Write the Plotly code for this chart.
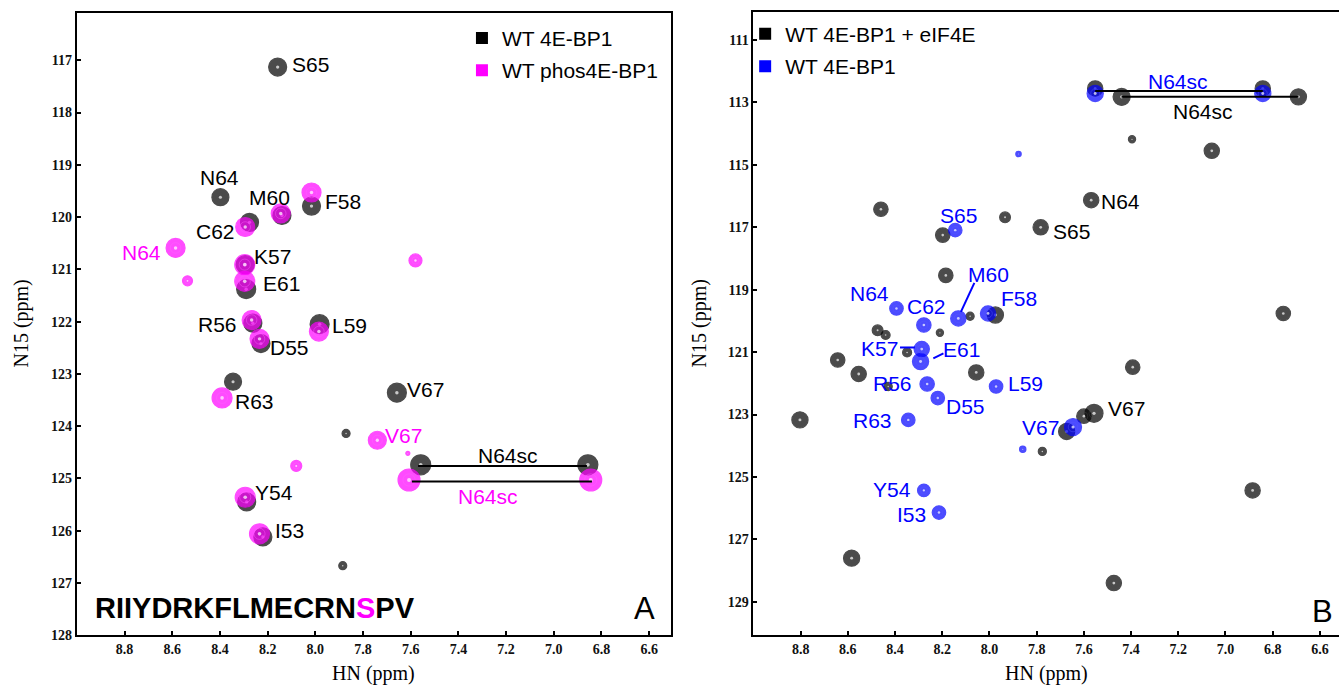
import plotly.graph_objects as go

# ---------------- Panel A data (HN ppm, N15 ppm, relative intensity) ----------------
a_black_hn = [8.158, 8.398, 8.140, 8.016, 8.276, 8.294, 8.290, 8.262, 7.982, 8.228, 8.345, 7.658, 7.871, 7.558, 6.857, 8.288, 8.220, 7.885]
a_black_n15 = [117.13, 119.62, 119.97, 119.79, 120.10, 120.91, 121.38, 122.03, 122.05, 122.42, 123.15, 123.36, 124.14, 124.74, 124.74, 125.45, 126.12, 126.67]
a_black_int = [0.90, 0.85, 0.90, 0.90, 0.90, 0.90, 0.95, 0.90, 0.95, 0.90, 0.85, 0.95, 0.40, 1.00, 1.00, 0.90, 0.90, 0.40]

a_mag_hn = [8.145, 8.016, 8.294, 8.586, 8.536, 7.580, 8.296, 8.296, 8.267, 7.985, 8.234, 8.391, 7.740, 7.612, 8.080, 7.607, 6.845, 8.294, 8.234]
a_mag_n15 = [119.93, 119.53, 120.19, 120.59, 121.22, 120.83, 120.91, 121.23, 121.97, 122.19, 122.33, 123.46, 124.27, 124.52, 124.76, 125.03, 125.03, 125.36, 126.06]
a_mag_int = [0.95, 0.95, 0.95, 0.95, 0.50, 0.65, 1.00, 1.00, 0.95, 0.95, 0.95, 1.00, 0.90, 0.20, 0.55, 1.10, 1.10, 1.00, 1.00]

# N64 side-chain pairs (panel A)
a_sc_black_hn = [7.569, 6.861]
a_sc_black_n15 = [124.76, 124.76]
a_sc_mag_hn = [7.595, 6.840]
a_sc_mag_n15 = [125.06, 125.06]

a_lab_black = ["S65", "N64", "M60", "F58", "C62", "K57", "E61", "R56", "L59", "D55", "R63", "V67", "N64sc", "Y54", "I53"]
a_lab_black_hn = [8.022, 8.403, 8.194, 7.885, 8.418, 8.180, 8.143, 8.409, 7.858, 8.107, 8.253, 7.536, 7.194, 8.173, 8.107]
a_lab_black_n15 = [117.08, 119.24, 119.62, 119.71, 120.27, 120.75, 121.28, 122.05, 122.08, 122.50, 123.53, 123.29, 124.56, 125.27, 126.00]
a_lab_mag = ["N64", "V67", "N64sc"]
a_lab_mag_hn = [8.731, 7.630, 7.276]
a_lab_mag_n15 = [120.67, 124.17, 125.34]

# ---------------- Panel B data ----------------
b_black_hn = [7.552, 6.842, 7.440, 6.691, 7.396, 7.058, 8.460, 7.569, 7.934, 7.783, 8.198, 8.185, 6.755, 8.474, 8.440, 8.210, 8.082, 7.975,
              8.643, 8.554, 8.349, 8.056, 7.393, 8.429, 8.803, 7.557, 7.600, 7.673, 7.776, 6.885, 8.584, 7.473]
b_black_n15 = [112.55, 112.55, 112.82, 112.82, 114.18, 114.55, 116.42, 116.13, 116.68, 117.00, 117.25, 118.54, 119.76, 120.30, 120.45, 120.38, 119.85, 119.81,
               121.25, 121.70, 121.01, 121.65, 121.48, 122.10, 123.17, 122.96, 123.05, 123.54, 124.18, 125.43, 127.60, 128.40]
b_black_int = [0.85, 0.85, 0.95, 0.90, 0.40, 0.85, 0.80, 0.85, 0.60, 0.85, 0.80, 0.80, 0.80, 0.60, 0.50, 0.40, 0.45, 0.90,
               0.80, 0.85, 0.50, 0.85, 0.80, 0.45, 0.90, 1.00, 0.80, 0.90, 0.45, 0.85, 0.90, 0.85]

b_blue_hn = [7.552, 6.842, 7.877, 8.145, 8.394, 8.278, 8.132, 8.006, 8.287, 8.292, 8.264, 8.219, 7.972, 8.344, 7.646, 7.859, 8.278, 8.214]
b_blue_n15 = [112.71, 112.71, 114.65, 117.09, 119.60, 120.13, 119.92, 119.76, 120.90, 121.30, 122.02, 122.47, 122.10, 123.17, 123.40, 124.11, 125.43, 126.14]
b_blue_int = [0.90, 0.90, 0.30, 0.75, 0.75, 0.80, 0.85, 0.85, 0.85, 0.90, 0.80, 0.75, 0.75, 0.75, 0.95, 0.35, 0.70, 0.75]

b_sc_blue_hn = [7.552, 6.842]
b_sc_blue_n15 = [112.63, 112.63]
b_sc_black_hn = [7.440, 6.691]
b_sc_black_n15 = [112.82, 112.82]

b_lab_blue = ["N64sc", "S65", "M60", "N64", "C62", "F58", "K57", "E61", "R56", "L59", "D55", "R63", "V67", "Y54", "I53"]
b_lab_blue_hn = [7.200, 8.130, 8.006, 8.507, 8.265, 7.875, 8.466, 8.117, 8.411, 7.847, 8.103, 8.495, 7.783, 8.415, 8.331]
b_lab_blue_n15 = [112.34, 116.63, 118.50, 119.11, 119.54, 119.28, 120.88, 120.93, 122.00, 122.00, 122.75, 123.19, 123.41, 125.41, 126.21]
b_lab_black = ["N64sc", "N64", "S65", "V67"]
b_lab_black_hn = [7.097, 7.445, 7.651, 7.420]
b_lab_black_n15 = [113.30, 116.16, 117.12, 122.80]

# leader lines (panel B): M60, K57, E61
b_lead_hn = [[8.064, 8.121], [8.379, 8.316], [8.195, 8.238]]
b_lead_n15 = [[118.78, 119.71], [120.85, 120.85], [121.04, 121.20]]

x_ticks = [8.8, 8.6, 8.4, 8.2, 8.0, 7.8, 7.6, 7.4, 7.2, 7.0, 6.8, 6.6]
a_y_ticks = [117, 118, 119, 120, 121, 122, 123, 124, 125, 126, 127, 128]
b_y_ticks = [111, 113, 115, 117, 119, 121, 123, 125, 127, 129]

BLACK = "#000000"
MAG = "#ff00ff"
BLUE = "#0000ff"
SANS = "Liberation Sans, Arial, sans-serif"
SERIF = "Liberation Serif, Times New Roman, serif"

fig = go.Figure()


def peaks(hn, n15, inten, color, ring, xa, ya, sref):
    fig.add_trace(go.Scatter(
        x=hn, y=n15, mode="markers", xaxis=xa, yaxis=ya, showlegend=False, hoverinfo="skip",
        marker=dict(size=inten, sizemode="diameter", sizeref=sref, color=color,
                    line=dict(color=color, width=1.2))))
    fig.add_trace(go.Scatter(
        x=hn, y=n15, mode="markers", xaxis=xa, yaxis=ya, showlegend=False, hoverinfo="skip",
        marker=dict(size=inten, sizemode="diameter", sizeref=sref * 1.8, color=ring,
                    symbol="circle-open", line=dict(color=ring, width=0.6))))
    fig.add_trace(go.Scatter(
        x=hn, y=n15, mode="markers", xaxis=xa, yaxis=ya, showlegend=False, hoverinfo="skip",
        marker=dict(size=inten, sizemode="diameter", sizeref=sref * 5.5, color="#ffffff",
                    line=dict(width=0))))


def line_pair(hn, n15, xa, ya):
    fig.add_trace(go.Scatter(x=hn, y=n15, mode="lines", xaxis=xa, yaxis=ya, showlegend=False,
                             hoverinfo="skip", line=dict(color=BLACK, width=2)))


# Panel A
peaks(a_black_hn, a_black_n15, a_black_int, BLACK, "#4a4a4a", "x", "y", 1 / 20)
peaks(a_mag_hn, a_mag_n15, a_mag_int, MAG, "#ff66ff", "x", "y", 1 / 20)
line_pair(a_sc_black_hn, a_sc_black_n15, "x", "y")
line_pair(a_sc_mag_hn, a_sc_mag_n15, "x", "y")

# Panel B
peaks(b_black_hn, b_black_n15, b_black_int, BLACK, "#4a4a4a", "x2", "y2", 1 / 18)
peaks(b_blue_hn, b_blue_n15, b_blue_int, BLUE, "#5a5aff", "x2", "y2", 1 / 18)
line_pair(b_sc_blue_hn, b_sc_blue_n15, "x2", "y2")
line_pair(b_sc_black_hn, b_sc_black_n15, "x2", "y2")
for lx, ly in zip(b_lead_hn, b_lead_n15):
    fig.add_trace(go.Scatter(x=lx, y=ly, mode="lines", xaxis="x2", yaxis="y2", showlegend=False,
                             hoverinfo="skip", line=dict(color=BLUE, width=2)))

# Legend entries
for name, col, leg in [("WT 4E-BP1", BLACK, "legend"), ("WT phos4E-BP1", MAG, "legend"),
                       ("WT 4E-BP1 + eIF4E", BLACK, "legend2"), ("WT 4E-BP1", BLUE, "legend2")]:
    xa, ya = ("x", "y") if leg == "legend" else ("x2", "y2")
    fig.add_trace(go.Scatter(x=[None], y=[None], mode="markers", name=name, legend=leg,
                             xaxis=xa, yaxis=ya, legendgroup=name + leg,
                             marker=dict(symbol="square", size=16, color=col)))

ann = []


def labels(texts, xs, ys, color, xr, yr):
    for t, x, y in zip(texts, xs, ys):
        ann.append(dict(text=t, x=x, y=y, xref=xr, yref=yr, showarrow=False,
                        font=dict(family=SANS, size=21, color=color), xanchor="center", yanchor="middle"))


labels(a_lab_black, a_lab_black_hn, a_lab_black_n15, BLACK, "x", "y")
labels(a_lab_mag, a_lab_mag_hn, a_lab_mag_n15, MAG, "x", "y")
labels(b_lab_blue, b_lab_blue_hn, b_lab_blue_n15, BLUE, "x2", "y2")
labels(b_lab_black, b_lab_black_hn, b_lab_black_n15, BLACK, "x2", "y2")

ann.append(dict(text="<b>RIIYDRKFLMECRN<span style='color:#ff00ff'>S</span>PV</b>", x=0.027, y=127.47,
                xref="x domain", yref="y", xanchor="left", yanchor="middle", showarrow=False,
                font=dict(family=SANS, size=29, color=BLACK)))
ann.append(dict(text="A", x=0.955, y=127.48, xref="x domain", yref="y", xanchor="center", yanchor="middle",
                showarrow=False, font=dict(family=SANS, size=31, color=BLACK)))
ann.append(dict(text="B", x=0.972, y=129.31, xref="x2 domain", yref="y2", xanchor="center", yanchor="middle",
                showarrow=False, font=dict(family=SANS, size=31, color=BLACK)))

for xr, yr in [("x domain", "y domain"), ("x2 domain", "y2 domain")]:
    ann.append(dict(text="HN (ppm)", x=0.5, y=-0.04, xref=xr, yref=yr, xanchor="center", yanchor="top",
                    showarrow=False, font=dict(family=SERIF, size=20, color=BLACK)))
ann.append(dict(text="N15 (ppm)", x=-0.093, y=0.5, xref="x domain", yref="y domain", textangle=-90,
                xanchor="center", yanchor="middle", showarrow=False, font=dict(family=SERIF, size=20, color=BLACK)))
ann.append(dict(text="N15 (ppm)", x=-0.093, y=0.5, xref="x2 domain", yref="y2 domain", textangle=-90,
                xanchor="center", yanchor="middle", showarrow=False, font=dict(family=SERIF, size=20, color=BLACK)))

tickfont = dict(family=SERIF, size=14, color="#111111", weight="bold")
axis_common = dict(showgrid=False, zeroline=False, showline=True, linecolor=BLACK, linewidth=2,
                   ticks="inside", ticklen=4, tickwidth=1.5, tickcolor=BLACK, tickfont=tickfont,
                   automargin=False)

fig.update_layout(
    width=1339, height=686, margin=dict(l=0, r=0, t=0, b=0, pad=0, autoexpand=False),
    paper_bgcolor="white", plot_bgcolor="white",
    xaxis=dict(domain=[0.0574, 0.5012], range=[9.0, 6.508], tickvals=x_ticks, tickformat=".1f",
               mirror=True, anchor="y", **axis_common),
    yaxis=dict(domain=[0.074, 0.9815], range=[128.0, 116.09], tickvals=a_y_ticks, mirror=True,
               anchor="x", **axis_common),
    xaxis2=dict(domain=[0.5627, 1.0], range=[9.0, 6.519], tickvals=x_ticks, tickformat=".1f",
                mirror=True, anchor="y2", **axis_common),
    yaxis2=dict(domain=[0.074, 0.983], range=[130.07, 110.09], tickvals=b_y_ticks, mirror=False,
                anchor="x2", **axis_common),
    legend=dict(x=0.345, y=0.974, xanchor="left", yanchor="top", bgcolor="rgba(0,0,0,0)",
                font=dict(family=SANS, size=21, color=BLACK), tracegroupgap=2, itemsizing="constant"),
    legend2=dict(x=0.5565, y=0.98, xanchor="left", yanchor="top", bgcolor="rgba(0,0,0,0)",
                 font=dict(family=SANS, size=21, color=BLACK), tracegroupgap=2, itemsizing="constant"),
    annotations=ann,
)

fig.write_html("out.html", config={"displayModeBar": False},
               post_script="document.body.style.margin='0';document.body.style.overflow='hidden';")
